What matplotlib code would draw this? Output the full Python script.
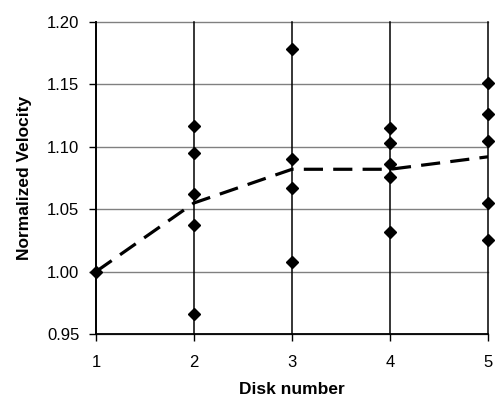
## Normalized velocity per disk, individual runs and their mean
import matplotlib
matplotlib.use('Agg')
import matplotlib.pyplot as plt

plt.rcParams['font.family'] = ['Liberation Sans', 'DejaVu Sans']

# Data
disk_1 = [1.000]
disk_2 = [1.117, 1.095, 1.062, 1.037, 0.966]
disk_3 = [1.178, 1.090, 1.067, 1.008]
disk_4 = [1.115, 1.103, 1.086, 1.076, 1.032]
disk_5 = [1.151, 1.126, 1.105, 1.055, 1.025]
disks = [1, 2, 3, 4, 5]
mean_velocity = [1.000, 1.055, 1.082, 1.082, 1.092]
y_ticks = [0.95, 1.00, 1.05, 1.10, 1.15, 1.20]

fig = plt.figure(figsize=(4.96, 4.03), dpi=100)
ax = fig.add_axes([0.1935, 0.1712, 0.7905, 0.7742])

# horizontal grid (grey) and vertical lines at each disk (black)
for yv in y_ticks:
    ax.axhline(yv, color='#808080', lw=1.0, zorder=1, clip_on=False)
for xv in disks:
    ax.axvline(xv, color='black', lw=1.1, zorder=1, clip_on=False)

# individual points
for d, vals in zip(disks, [disk_1, disk_2, disk_3, disk_4, disk_5]):
    ax.plot([d] * len(vals), vals, linestyle='none', marker='D',
            color='black', markersize=6.5, zorder=3, clip_on=False)

# mean line
ax.plot(disks, mean_velocity, color='black', lw=2.3,
        dashes=(6, 3.2), zorder=2)

ax.set_xlim(1, 5)
ax.set_ylim(0.95, 1.20)
ax.set_xticks(disks)
ax.set_yticks(y_ticks)
ax.set_yticklabels(['%.2f' % v for v in y_ticks])

for side in ['top', 'right']:
    ax.spines[side].set_visible(False)
ax.spines['left'].set_linewidth(1.3)
ax.spines['bottom'].set_linewidth(1.3)
ax.tick_params(direction='out', length=5, width=1.0, labelsize=12,
               colors='black')
ax.tick_params(axis='x', pad=10)
ax.tick_params(axis='y', pad=7)

ax.set_xlabel('Disk number', fontsize=12.5, fontweight='bold', labelpad=9)
ax.set_ylabel('Normalized Velocity', fontsize=12.5, fontweight='bold',
              labelpad=11)

fig.savefig('out.png', dpi=100)
